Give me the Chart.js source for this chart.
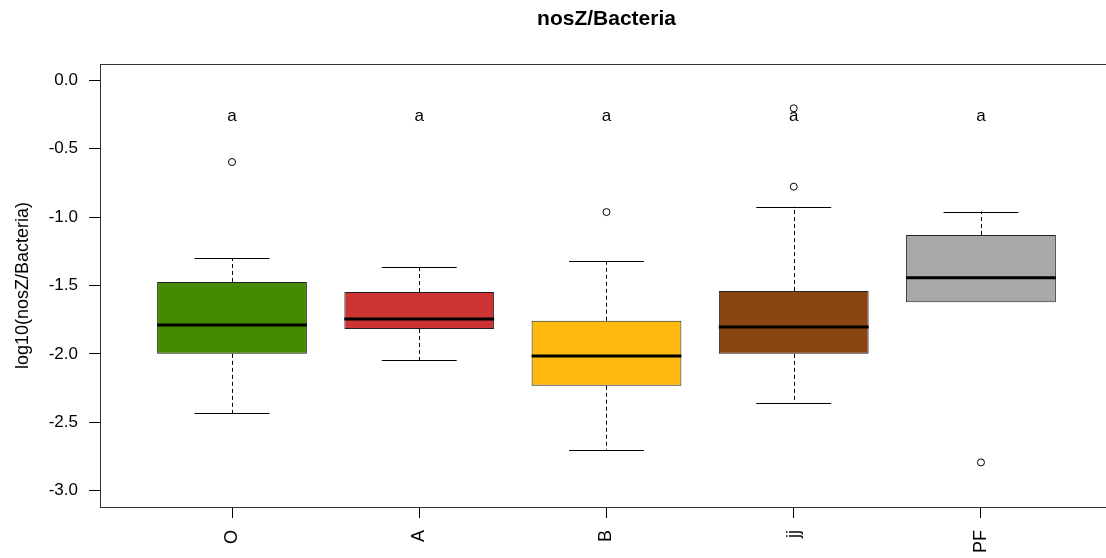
<!DOCTYPE html>
<html>
<head>
<meta charset="utf-8">
<script src="https://cdn.jsdelivr.net/npm/chart.js@4.4.1/dist/chart.umd.min.js"></script>
<style>
  body { margin: 0; background: #fff; overflow: hidden; }
  canvas { display: block; }
</style>
</head>
<body>
<canvas id="boxChart" width="1106" height="558"></canvas>
<script>
// nosZ/Bacteria boxplot, values

const groups = ['O', 'A', 'B', 'jj', 'PF'];
const q1 = [-2.0, -1.818, -2.233, -2.0, -1.623];
const q3 = [-1.474, -1.548, -1.758, -1.541, -1.131];
const medians = [-1.788, -1.745, -2.016, -1.804, -1.443];
const whiskerLow = [-2.433, -2.045, -2.701, -2.36, -1.623];
const whiskerHigh = [-1.299, -1.365, -1.321, -0.924, -0.96];
const outliers = [[-0.597], [], [-0.963], [-0.777, -0.204], [-2.794]];
const letters = ['a', 'a', 'a', 'a', 'a'];
const letterLevel = -0.265;
const boxColors = ['#458B00', '#CD3333', '#FFB90F', '#8B4513', '#A8A8A8'];
const yTicks = [0, -0.5, -1, -1.5, -2, -2.5, -3];

const FONT = '"Liberation Sans", Arial, sans-serif';

// outlier points as {x, y}
const outlierPoints = [];
outliers.forEach((vals, i) => {
    vals.forEach(v => outlierPoints.push({ x: i + 1, y: v }));
});

// whiskers, caps, medians, frame and texts
const boxExtras = {
    id: 'boxExtras',
    afterDatasetsDraw(chart) {
        const ctx = chart.ctx;
        const xs = chart.scales.x;
        const ys = chart.scales.y;
        const area = chart.chartArea;
        ctx.save();
        ctx.strokeStyle = '#000';
        groups.forEach((g, i) => {
            const cx = Math.round(xs.getPixelForValue(i + 1)) + 0.5;
            const capL = xs.getPixelForValue(i + 1 - 0.2);
            const capR = xs.getPixelForValue(i + 1 + 0.2);
            const boxL = xs.getPixelForValue(i + 1 - 0.4);
            const boxR = xs.getPixelForValue(i + 1 + 0.4);

            // dashed whiskers
            ctx.lineWidth = 1;
            ctx.setLineDash([4, 3]);
            ctx.beginPath();
            if (whiskerHigh[i] > q3[i]) {
                ctx.moveTo(cx, ys.getPixelForValue(q3[i]));
                ctx.lineTo(cx, ys.getPixelForValue(whiskerHigh[i]));
            }
            if (whiskerLow[i] < q1[i]) {
                ctx.moveTo(cx, ys.getPixelForValue(q1[i]));
                ctx.lineTo(cx, ys.getPixelForValue(whiskerLow[i]));
            }
            ctx.stroke();
            ctx.setLineDash([]);

            // caps (skipped where the whisker sits on the box edge)
            ctx.beginPath();
            if (whiskerHigh[i] > q3[i]) {
                const y = Math.round(ys.getPixelForValue(whiskerHigh[i])) + 0.5;
                ctx.moveTo(capL, y);
                ctx.lineTo(capR, y);
            }
            if (whiskerLow[i] < q1[i]) {
                const y = Math.round(ys.getPixelForValue(whiskerLow[i])) + 0.5;
                ctx.moveTo(capL, y);
                ctx.lineTo(capR, y);
            }
            ctx.stroke();

            // median
            ctx.lineWidth = 3;
            ctx.beginPath();
            const my = ys.getPixelForValue(medians[i]);
            ctx.moveTo(boxL, my);
            ctx.lineTo(boxR, my);
            ctx.stroke();

            // group letters
            ctx.fillStyle = '#000';
            ctx.font = '17px ' + FONT;
            ctx.textAlign = 'center';
            ctx.textBaseline = 'middle';
            ctx.fillText(letters[i], xs.getPixelForValue(i + 1), ys.getPixelForValue(letterLevel));
        });

        // plot frame
        ctx.lineWidth = 1;
        ctx.strokeStyle = '#333';
        ctx.strokeRect(Math.round(area.left) + 0.5, Math.round(area.top) + 0.5,
            area.right - area.left + 20, Math.round(area.bottom - area.top));
        ctx.restore();
    },
    afterDraw(chart) {
        const ctx = chart.ctx;
        const xs = chart.scales.x;
        const area = chart.chartArea;
        ctx.save();
        ctx.fillStyle = '#000';

        // title
        ctx.font = 'bold 21px ' + FONT;
        ctx.textAlign = 'center';
        ctx.textBaseline = 'middle';
        ctx.fillText('nosZ/Bacteria', xs.getPixelForValue(3), 19);

        // y axis label
        ctx.font = '18px ' + FONT;
        ctx.translate(23, (area.top + area.bottom) / 2);
        ctx.rotate(-Math.PI / 2);
        ctx.fillText('log10(nosZ/Bacteria)', 0, 0);
        ctx.restore();

        // x labels, read bottom to top
        ctx.save();
        ctx.fillStyle = '#000';
        ctx.font = '18px ' + FONT;
        ctx.textAlign = 'right';
        ctx.textBaseline = 'middle';
        groups.forEach((g, i) => {
            ctx.save();
            ctx.translate(xs.getPixelForValue(i + 1), area.bottom + 23);
            ctx.rotate(-Math.PI / 2);
            ctx.fillText(g, 0, 0);
            ctx.restore();
        });
        ctx.restore();
    }
};

new Chart(document.getElementById('boxChart').getContext('2d'), {
    type: 'bar',
    data: {
        datasets: [
            {
                type: 'bar',
                data: groups.map((g, i) => ({ x: i + 1, y: [q1[i], q3[i]] })),
                backgroundColor: boxColors,
                borderColor: '#222',
                borderWidth: 1,
                borderSkipped: false,
                barPercentage: 0.8,
                categoryPercentage: 1.0,
                order: 2
            },
            {
                type: 'scatter',
                data: outlierPoints,
                pointStyle: 'circle',
                pointRadius: 3.5,
                pointBackgroundColor: '#fff',
                pointBorderColor: '#000',
                pointBorderWidth: 1,
                showLine: false,
                order: 1
            }
        ]
    },
    options: {
        responsive: false,
        animation: false,
        layout: { padding: { top: 64, right: 0, left: 0, bottom: 0 } },
        plugins: {
            legend: { display: false },
            tooltip: { enabled: false },
            title: { display: false }
        },
        scales: {
            x: {
                type: 'linear',
                min: 0.295,
                max: 5.641,
                offset: false,
                afterBuildTicks(axis) {
                    axis.ticks = groups.map((g, i) => ({ value: i + 1 }));
                },
                afterFit(axis) { axis.height = 51; },
                ticks: { display: false },
                grid: {
                    offset: false,
                    drawOnChartArea: false,
                    drawTicks: true,
                    tickLength: 11,
                    color: '#000'
                },
                border: { display: false }
            },
            y: {
                min: -3.12,
                max: 0.12,
                afterBuildTicks(axis) {
                    axis.ticks = yTicks.map(v => ({ value: v }));
                },
                afterFit(axis) { axis.width = 100; },
                ticks: {
                    padding: 11,
                    color: '#000',
                    font: { family: FONT, size: 17 },
                    callback: v => v.toFixed(1)
                },
                grid: {
                    drawOnChartArea: false,
                    drawTicks: true,
                    tickLength: 11,
                    color: '#000'
                },
                border: { display: false }
            }
        }
    },
    plugins: [boxExtras]
});
</script>
</body>
</html>
